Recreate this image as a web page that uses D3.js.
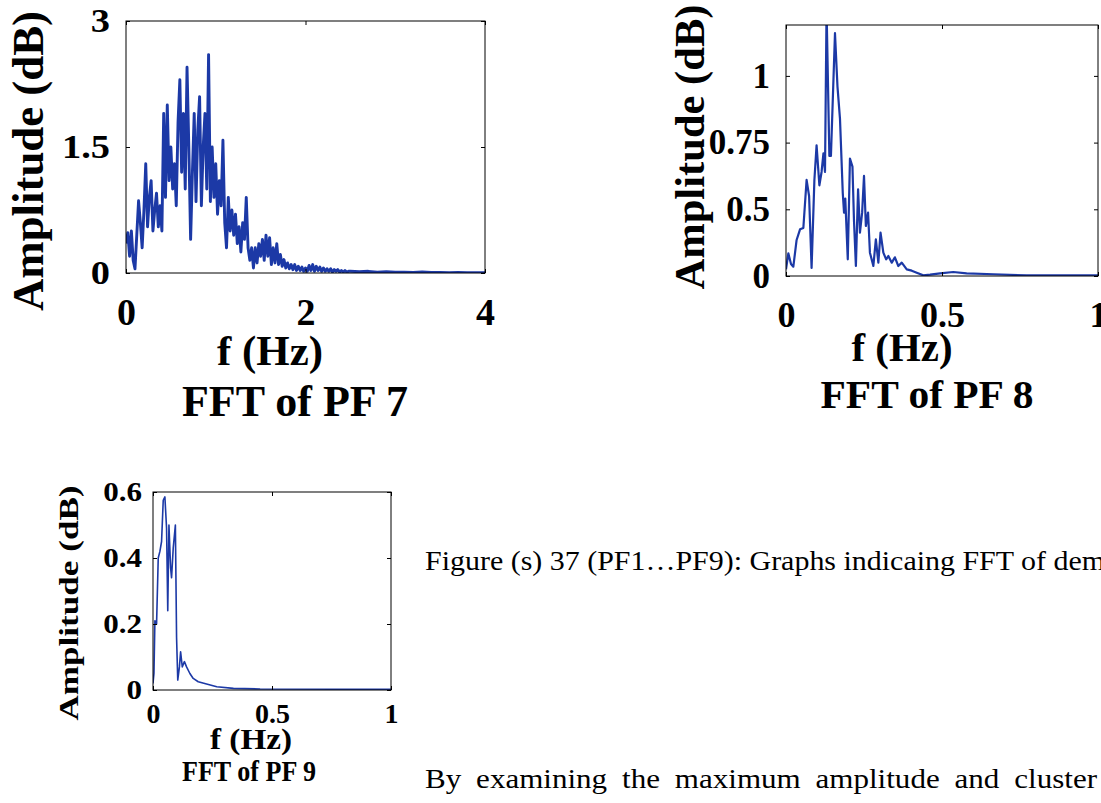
<!DOCTYPE html>
<html>
<head>
<meta charset="utf-8">
<script src="https://cdn.jsdelivr.net/npm/d3@7"></script>
<style>
  body { margin: 0; background: #fff; }
  svg { display: block; }
  .serif { font-family: "Liberation Serif", "Times New Roman", serif; fill: #000; }
</style>
</head>
<body>
<svg id="fig" width="1101" height="803"></svg>
<script>
// ---- data ----

// FFT of PF 7, sampled every 0.02 Hz from 0 to 2.48 Hz, then a coarse tail every 0.1 Hz
const pf7Step = 0.02
const pf7Amp = [
  0.35, 0.48, 0.2, 0.5, 0.15, 0.05, 0.45, 0.86, 0.6, 0.3,
  0.75, 1.3, 0.55, 0.9, 1.1, 0.5, 0.75, 0.95, 0.55, 0.8,
  0.5, 1.9, 0.9, 2.0, 1.1, 1.5, 1.0, 1.3, 0.8, 1.8,
  2.3, 1.2, 1.9, 1.0, 2.45, 1.5, 0.4, 1.2, 1.9, 0.85,
  1.7, 2.1, 0.8, 1.5, 1.9, 1.0, 2.6, 0.85, 1.5, 0.9,
  1.3, 0.7, 1.1, 0.8, 1.58, 0.6, 0.3, 0.9, 0.5, 0.75,
  0.45, 0.7, 0.35, 0.55, 0.25, 0.6, 0.4, 0.9, 0.3, 0.15,
  0.3, 0.06, 0.3, 0.12, 0.35, 0.2, 0.4, 0.15, 0.45, 0.2,
  0.42, 0.1, 0.3, 0.12, 0.35, 0.1, 0.22, 0.08, 0.16, 0.06,
  0.12, 0.05, 0.1, 0.04, 0.1, 0.03, 0.08, 0.03, 0.07, 0.02,
  0.06, 0.02, 0.09, 0.03, 0.1, 0.02, 0.08, 0.03, 0.07, 0.02,
  0.06, 0.02, 0.05, 0.02, 0.05, 0.01, 0.04, 0.02, 0.04, 0.01,
  0.03, 0.01, 0.03, 0.01, 0.02
]
const pf7TailStart = 2.5
const pf7TailStep = 0.1
const pf7Tail = [0.02, 0.015, 0.02, 0.01, 0.015, 0.01, 0.01, 0.008, 0.012, 0.006,
  0.008, 0.005, 0.006, 0.004, 0.005, 0.004]

// FFT of PF 8 (irregular points)
const pf8Hz = [0, 0.0075, 0.016, 0.0235, 0.034, 0.045, 0.0556, 0.066, 0.074, 0.082,
  0.091, 0.098, 0.107, 0.114, 0.12, 0.125, 0.13, 0.139, 0.144, 0.157,
  0.165, 0.173, 0.182, 0.186, 0.19, 0.198, 0.205, 0.213, 0.218, 0.224,
  0.231, 0.237, 0.244, 0.25, 0.256, 0.263, 0.269, 0.28, 0.288, 0.296,
  0.303, 0.312, 0.321, 0.328, 0.339, 0.349, 0.36, 0.371, 0.387, 0.403,
  0.419, 0.44, 0.462, 0.494, 0.536, 0.579, 0.665, 0.771, 1.0]
const pf8Amp = [0.05, 0.17, 0.09, 0.07, 0.27, 0.35, 0.36, 0.61, 0.55, 0.06,
  0.61, 0.74, 0.59, 0.64, 0.71, 0.64, 1.25, 0.7, 0.7, 1.16,
  0.96, 0.84, 0.56, 0.475, 0.54, 0.125, 0.69, 0.66, 0.41, 0.075,
  0.575, 0.325, 0.475, 0.625, 0.375, 0.475, 0.175, 0.075, 0.275, 0.1,
  0.325, 0.175, 0.125, 0.15, 0.1, 0.14, 0.075, 0.1, 0.05, 0.04,
  0.025, 0.005, 0.01, 0.02, 0.03, 0.02, 0.013, 0.005, 0.005]

// FFT of PF 9 (irregular points)
const pf9Hz = [0, 0.004, 0.008, 0.015, 0.022, 0.029, 0.036, 0.043, 0.05, 0.057,
  0.062, 0.067, 0.074, 0.078, 0.085, 0.094, 0.099, 0.104, 0.111, 0.116,
  0.123, 0.132, 0.141, 0.155, 0.169, 0.19, 0.225, 0.268, 0.338, 0.45, 1.0]
const pf9Amp = [0.02, 0.05, 0.21, 0.2, 0.4, 0.42, 0.45, 0.575, 0.585, 0.49,
  0.24, 0.5, 0.37, 0.34, 0.43, 0.5, 0.16, 0.03, 0.07, 0.116,
  0.07, 0.086, 0.07, 0.05, 0.035, 0.025, 0.018, 0.01, 0.005, 0.003, 0.002]

// tick values and labels
const pf7XTicks = [0, 2, 4]
const pf7YTicks = [0, 1.5, 3]
const pf7YLabels = ["0", "1.5", "3"]
const pf8XTicks = [0, 0.5, 1]
const pf8XLabels = ["0", "0.5", "1"]
const pf8YTicks = [0, 0.5, 0.75, 1]
const pf8YLabels = ["0", "0.5", "0.75", "1"]
const pf9XTicks = [0, 0.5, 1]
const pf9XLabels = ["0", "0.5", "1"]
const pf9YTicks = [0, 0.2, 0.4, 0.6]
const pf9YLabels = ["0", "0.2", "0.4", "0.6"]

const yLabel = "Amplitude (dB)"
const xLabel = "f (Hz)"
const caption = "Figure (s) 37 (PF1\u2026PF9): Graphs indicaing FFT of dem"
const bodyLine = "By examining the maximum amplitude and cluster"

const lineColor = "#1c39a6"
const svg = d3.select("#fig")

// widen text the way the scanned page is widened
function widen(sel, k) {
  if (k === 1) return
  sel.each(function () {
    const len = this.getComputedTextLength()
    d3.select(this).attr("textLength", len * k).attr("lengthAdjust", "spacingAndGlyphs")
  })
}

function drawPanel(cfg) {
  const w = cfg.right - cfg.left
  const h = cfg.bottom - cfg.top
  const g = svg.append("g").attr("transform", `translate(${cfg.left},${cfg.top})`)

  const x = d3.scaleLinear().domain(cfg.xDomain).range([0, w])
  const y = cfg.yScale(h)

  g.append("clipPath").attr("id", cfg.id + "-clip")
    .append("rect").attr("width", w).attr("height", h)

  const line = d3.line()
    .x(d => x(d[0]))
    .y(d => y(d[1]))

  g.append("path")
    .datum(cfg.data)
    .attr("clip-path", `url(#${cfg.id}-clip)`)
    .attr("fill", "none")
    .attr("stroke", lineColor)
    .attr("stroke-width", cfg.lineWidth)
    .attr("stroke-linejoin", "round")
    .attr("d", line)

  const styleAxis = (sel, size) => sel
    .attr("font-family", '"Liberation Serif", "Times New Roman", serif')
    .attr("font-weight", "bold")
    .attr("font-size", size)
    .call(a => a.select(".domain").remove())

  g.append("g")
    .attr("transform", `translate(0,${h})`)
    .call(d3.axisBottom(x).tickValues(cfg.xTicks).tickFormat((d, i) => cfg.xLabels[i])
      .tickSizeInner(-4).tickSizeOuter(0).tickPadding(cfg.xPad))
    .call(styleAxis, cfg.xTickSize)
    .selectAll("text").call(widen, cfg.xStretch)

  g.append("g")
    .call(d3.axisLeft(y).tickValues(cfg.yTicks).tickFormat((d, i) => cfg.yLabels[i])
      .tickSizeInner(-4).tickSizeOuter(0).tickPadding(cfg.yPad))
    .call(styleAxis, cfg.yTickSize)
    .selectAll("text").call(widen, cfg.yStretch)

  // mirrored ticks, matlab style
  g.append("g")
    .call(d3.axisTop(x).tickValues(cfg.xTicks).tickFormat("").tickSizeInner(-4).tickSizeOuter(0))
    .call(styleAxis, 10)
  g.append("g")
    .attr("transform", `translate(${w},0)`)
    .call(d3.axisRight(y).tickValues(cfg.yTicks).tickFormat("").tickSizeInner(-4).tickSizeOuter(0))
    .call(styleAxis, 10)

  g.append("rect")
    .attr("width", w).attr("height", h)
    .attr("fill", "none").attr("stroke", "#000").attr("stroke-width", 1)

  // axis titles
  const t = cfg.titles
  svg.append("text").attr("class", "serif")
    .attr("transform", `translate(${t.ylab.x},${t.ylab.y}) rotate(-90)`)
    .attr("text-anchor", "middle").attr("font-weight", "bold")
    .attr("font-size", t.ylab.size)
    .attr("textLength", t.ylab.len).attr("lengthAdjust", "spacingAndGlyphs")
    .text(yLabel)

  svg.append("text").attr("class", "serif")
    .attr("x", t.xlab.x).attr("y", t.xlab.y)
    .attr("text-anchor", "middle").attr("font-weight", "bold")
    .attr("font-size", t.xlab.size)
    .attr("textLength", t.xlab.len).attr("lengthAdjust", "spacingAndGlyphs")
    .text(xLabel)

  svg.append("text").attr("class", "serif")
    .attr("x", t.name.x).attr("y", t.name.y)
    .attr("text-anchor", "middle").attr("font-weight", "bold")
    .attr("font-size", t.name.size)
    .attr("textLength", t.name.len).attr("lengthAdjust", "spacingAndGlyphs")
    .text(t.name.text)
}

// PF 7
drawPanel({
  id: "pf7",
  left: 126, right: 485, top: 21, bottom: 273,
  xDomain: [0, 4],
  yScale: h => d3.scaleLinear().domain([0, 3]).range([h, 0]),
  xTicks: pf7XTicks, xLabels: pf7XTicks.map(String),
  yTicks: pf7YTicks, yLabels: pf7YLabels,
  data: pf7Amp.map((v, i) => [i * pf7Step, v])
    .concat(pf7Tail.map((v, i) => [pf7TailStart + i * pf7TailStep, v])),
  lineWidth: 2.9,
  xTickSize: 38, xPad: 25, xStretch: 1,
  yTickSize: 34, yPad: 16, yStretch: 1.13,
  titles: {
    ylab: { x: 43, y: 161, size: 44, len: 300 },
    xlab: { x: 270, y: 365, size: 42, len: 106 },
    name: { x: 295, y: 416, size: 45, len: 226, text: "FFT of PF 7" }
  }
})

// PF 8: tick labels are evenly spaced although their values are not
drawPanel({
  id: "pf8",
  left: 786, right: 1098, top: 25, bottom: 276,
  xDomain: [0, 1],
  yScale: h => d3.scaleLinear()
    .domain([0, 0.5, 0.75, 1, 1.25])
    .range([0, 1, 2, 3, 4].map(k => h - k * 66.7)),
  xTicks: pf8XTicks, xLabels: pf8XLabels,
  yTicks: pf8YTicks, yLabels: pf8YLabels,
  data: pf8Hz.map((f, i) => [f, pf8Amp[i]]),
  lineWidth: 2.2,
  xTickSize: 36, xPad: 25, xStretch: 1,
  yTickSize: 35, yPad: 16, yStretch: 1,
  titles: {
    ylab: { x: 704, y: 147, size: 42, len: 285 },
    xlab: { x: 902, y: 361, size: 41, len: 101 },
    name: { x: 927, y: 408, size: 41, len: 213, text: "FFT of PF 8" }
  }
})

// PF 9
drawPanel({
  id: "pf9",
  left: 153, right: 391, top: 492, bottom: 690,
  xDomain: [0, 1],
  yScale: h => d3.scaleLinear().domain([0, 0.6]).range([h, 0]),
  xTicks: pf9XTicks, xLabels: pf9XLabels,
  yTicks: pf9YTicks, yLabels: pf9YLabels,
  data: pf9Hz.map((f, i) => [f, pf9Amp[i]]),
  lineWidth: 1.6,
  xTickSize: 28, xPad: 13, xStretch: 1,
  yTickSize: 27, yPad: 11, yStretch: 1.15,
  titles: {
    ylab: { x: 78, y: 603, size: 28, len: 235 },
    xlab: { x: 251, y: 749, size: 30, len: 82 },
    name: { x: 249, y: 781, size: 30, len: 134, text: "FFT of PF 9" }
  }
})

// document text to the right of PF 9
svg.append("text").attr("class", "serif")
  .attr("x", 425).attr("y", 570)
  .attr("font-size", 27)
  .attr("textLength", 680).attr("lengthAdjust", "spacingAndGlyphs")
  .text(caption)

// justified line, widened like the page scan
const pageStretch = 1.15
const body = svg.append("g")
  .attr("transform", `translate(425,788) scale(${pageStretch},1)`)
  .append("text").attr("class", "serif")
  .attr("font-size", 27)
  .text(bodyLine)
const natural = body.node().getComputedTextLength()
const gaps = bodyLine.split(" ").length - 1
body.attr("word-spacing", (672 / pageStretch - natural) / gaps)
</script>
</body>
</html>
